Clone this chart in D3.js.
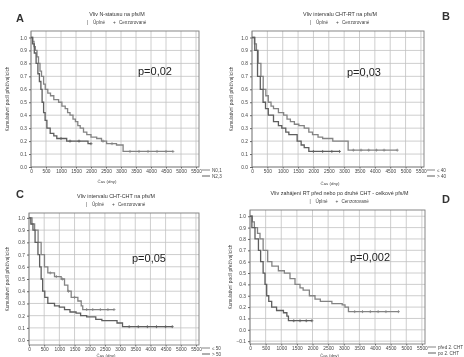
<!DOCTYPE html>
<html>
<head>
<meta charset="utf-8">
<script src="https://cdn.jsdelivr.net/npm/d3@7"></script>
<style>
	body { margin: 0; background: #fff; }
	svg { display: block; font-family: "Liberation Sans", Arial, sans-serif; filter: blur(0.3px); }
</style>
</head>
<body>
<div id="chart"></div>
<script>
// osa x (dny) a osa y (podíl přežívajících)
const xTicks = d3.range(0, 5501, 500);
const yTicks = d3.range(0, 11).map(i => i / 10);
const yTicksD = d3.range(-1, 11).map(i => i / 10);

// A - vliv N-statusu
const curveA1 = [[0,1],[60,0.97],[100,0.93],[145,0.9],[200,0.85],[250,0.8],[300,0.74],[350,0.7],[420,0.64],[475,0.6],[560,0.57],[650,0.55],[760,0.52],[920,0.5],[1030,0.47],[1140,0.45],[1220,0.42],[1300,0.4],[1400,0.37],[1480,0.35],[1560,0.32],[1640,0.3],[1750,0.27],[1860,0.25],[2000,0.23],[2190,0.22],[2350,0.2],[2520,0.18],[2850,0.17],[3070,0.12],[4730,0.12]];
const curveA2 = [[0,1],[50,0.95],[110,0.88],[170,0.8],[230,0.72],[280,0.66],[330,0.6],[370,0.5],[420,0.42],[470,0.36],[530,0.3],[640,0.26],[760,0.24],[860,0.22],[1190,0.2],[1900,0.18],[2000,0.18]];
const censA1 = [2400, 2700, 3300, 3600, 3900, 4200, 4500, 4730];
const censA2 = [1000, 1300, 1600, 2000];

// B - vliv intervalu CHT-RT
const curveB1 = [[0,1],[80,0.95],[144,0.9],[200,0.8],[290,0.7],[365,0.6],[450,0.55],[530,0.5],[620,0.47],[700,0.45],[860,0.42],[1030,0.4],[1140,0.37],[1250,0.35],[1380,0.33],[1525,0.32],[1700,0.3],[1850,0.27],[1970,0.25],[2150,0.23],[2300,0.22],[2630,0.2],[3130,0.13],[4730,0.13]];
const curveB2 = [[0,1],[90,0.9],[180,0.7],[270,0.6],[360,0.5],[440,0.45],[530,0.4],[700,0.35],[860,0.32],[970,0.3],[1100,0.27],[1200,0.25],[1470,0.2],[1600,0.17],[1700,0.15],[1850,0.12],[2850,0.12]];
const censB1 = [3300, 3550, 3800, 4050, 4300, 4730];
const censB2 = [2000, 2300, 2600, 2850];

// C - vliv intervalu CHT-CHT
const curveC1 = [[0,1],[100,0.95],[185,0.9],[300,0.8],[400,0.7],[510,0.6],[620,0.55],[840,0.52],[1060,0.5],[1170,0.45],[1280,0.4],[1390,0.35],[1610,0.32],[1720,0.28],[1770,0.25],[2800,0.25]];
const curveC2 = [[0,1],[60,0.95],[130,0.9],[200,0.8],[295,0.7],[350,0.6],[400,0.5],[450,0.4],[520,0.35],[620,0.3],[840,0.28],[1000,0.27],[1170,0.25],[1350,0.23],[1550,0.22],[1700,0.2],[1900,0.19],[2200,0.17],[2400,0.16],[2900,0.14],[3080,0.11],[4720,0.11]];
const censC1 = [700, 900, 1100, 1300, 1500, 1900, 2100, 2350, 2600, 2800];
const censC2 = [3300, 3600, 3900, 4200, 4500, 4720];

// D - RT před / po druhé CHT
const curveD1 = [[0,1],[75,0.95],[140,0.9],[240,0.85],[320,0.8],[420,0.7],[566,0.6],[700,0.56],[908,0.52],[1100,0.5],[1280,0.45],[1440,0.4],[1600,0.37],[1700,0.35],[1900,0.3],[2080,0.27],[2250,0.25],[2620,0.23],[2950,0.22],[3040,0.2],[3150,0.16],[4750,0.16]];
const curveD2 = [[0,1],[60,0.9],[160,0.8],[270,0.7],[340,0.6],[420,0.5],[480,0.4],[534,0.3],[600,0.25],[694,0.2],[850,0.17],[1070,0.15],[1180,0.12],[1230,0.08],[1980,0.08]];
const censD1 = [3350, 3600, 3850, 4100, 4350, 4750];
const censD2 = [1400, 1600, 1800, 1980];

const titles = ['Vliv N-statusu na pfs/M', 'Vliv intervalu CHT-RT na pfs/M', 'Vliv intervalu CHT-CHT na pfs/M', 'Vliv zahájení RT před nebo po druhé CHT - celkové pfs/M'];
const groupNames = [['N0,1', 'N2,3'], ['≤ 40', '> 40'], ['≤ 50', '> 50'], ['před 2. CHT', 'po 2. CHT']];
const legendNames = ['Úplné', 'Cenzorované'];
const pValues = ['p=0,02', 'p=0,03', 'p=0,05', 'p=0,002'];
const letters = ['A', 'B', 'C', 'D'];

const W = 464, H = 357;
const svg = d3.select('#chart').append('svg').attr('width', W).attr('height', H);

const panels = [
	{ left: 31, right: 199, top: 31, bottom: 167, yDom: [0, 1.05], yT: yTicks, c1: curveA1, c2: curveA2, k1: censA1, k2: censA2, letter: [16, 22], p: [138, 75], yt: 9, xt: 183 },
	{ left: 252, right: 424, top: 31, bottom: 167, yDom: [0, 1.05], yT: yTicks, c1: curveB1, c2: curveB2, k1: censB1, k2: censB2, letter: [442, 20], p: [347, 76], yt: 233, xt: 185 },
	{ left: 29, right: 199, top: 213, bottom: 345, yDom: [-0.04, 1.04], yT: yTicks, c1: curveC1, c2: curveC2, k1: censC1, k2: censC2, letter: [16, 198], p: [132, 262], yt: 9, xt: 356.6 },
	{ left: 250, right: 425, top: 210, bottom: 344, yDom: [-0.125, 1.055], yT: yTicksD, c1: curveD1, c2: curveD2, k1: censD1, k2: censD2, letter: [442, 203], p: [350, 261], yt: 232, xt: 356.6 }
];

// hodnota schodovité křivky v čase t
function survAt(curve, t) {
	let v = curve[0][1];
	curve.forEach(d => { if (d[0] <= t) v = d[1]; });
	return v;
}

panels.forEach((p, i) => {
	const x = d3.scaleLinear().domain([0, 5600]).range([p.left, p.right]);
	const y = d3.scaleLinear().domain(p.yDom).range([p.bottom, p.top]);
	const g = svg.append('g');

	// mřížka
	g.selectAll('.vg').data(xTicks).join('line')
		.attr('x1', d => x(d)).attr('x2', d => x(d))
		.attr('y1', p.top).attr('y2', p.bottom)
		.attr('stroke', '#c2c2c2').attr('stroke-width', 0.8);
	g.selectAll('.hg').data(p.yT).join('line')
		.attr('x1', p.left).attr('x2', p.right)
		.attr('y1', d => y(d)).attr('y2', d => y(d))
		.attr('stroke', '#c2c2c2').attr('stroke-width', 0.8);

	g.append('rect')
		.attr('x', p.left).attr('y', p.top)
		.attr('width', p.right - p.left).attr('height', p.bottom - p.top)
		.attr('fill', 'none').attr('stroke', '#7a7a7a').attr('stroke-width', 0.9);

	// osy
	const ax = g.append('g').attr('transform', `translate(0,${p.bottom})`)
		.call(d3.axisBottom(x).tickValues(xTicks).tickSize(1.5).tickPadding(1.5).tickFormat(d3.format('d')));
	const ay = g.append('g').attr('transform', `translate(${p.left},0)`)
		.call(d3.axisLeft(y).tickValues(p.yT).tickSize(2).tickPadding(2).tickFormat(d3.format('.1f')));
	[ax, ay].forEach(a => {
		a.select('.domain').remove();
		a.selectAll('line').attr('stroke', '#666');
		a.selectAll('text').attr('font-size', 4.8).attr('fill', '#444');
	});

	// křivky přežití
	const line = d3.line().curve(d3.curveStepAfter).x(d => x(d[0])).y(d => y(d[1]));
	const cols = ['#848484', '#5e5e5e'];
	[p.c1, p.c2].forEach((c, j) => {
		g.append('path').datum(c)
			.attr('fill', 'none').attr('stroke', cols[j]).attr('stroke-width', 1.3)
			.attr('d', line);
	});
	[[p.k1, p.c1], [p.k2, p.c2]].forEach(([k, c], j) => {
		g.selectAll(null).data(k).join('path')
			.attr('d', t => {
				const cx = x(t), cy = y(survAt(c, t));
				return `M${cx - 1.5},${cy}H${cx + 1.5}M${cx},${cy - 1.5}V${cy + 1.5}`;
			})
			.attr('stroke', cols[j]).attr('stroke-width', 0.8);
	});

	// nadpis a legenda
	const cx = (p.left + p.right) / 2 + 2;
	g.append('text').attr('x', cx).attr('y', p.top - 15)
		.attr('text-anchor', 'middle').attr('font-size', 5.4).attr('fill', '#333').text(titles[i]);
	const lg = g.append('g').attr('transform', `translate(${cx - 30},${p.top - 7})`);
	legendNames.forEach((n, j) => {
		const ox = j * 26;
		lg.append('text').attr('x', ox).attr('y', 0)
			.attr('font-size', 4.8).attr('fill', '#444').text(j === 0 ? '|' : '+');
		lg.append('text').attr('x', ox + 6).attr('y', 0)
			.attr('font-size', 4.6).attr('fill', '#444').text(n);
	});

	g.append('text').attr('x', p.letter[0]).attr('y', p.letter[1])
		.attr('font-size', 11).attr('font-weight', 'bold').attr('fill', '#333').text(letters[i]);
	g.append('text').attr('x', p.p[0]).attr('y', p.p[1])
		.attr('font-size', 11).attr('fill', '#222').text(pValues[i]);

	// popisky os
	g.append('text').attr('x', (p.left + p.right) / 2 - 8).attr('y', p.xt)
		.attr('text-anchor', 'middle').attr('font-size', 4.4).attr('fill', '#444').text('Čas (dny)');
	g.append('text')
		.attr('transform', `translate(${p.yt},${(p.top + p.bottom) / 2}) rotate(-90)`)
		.attr('text-anchor', 'middle').attr('font-size', 4.8).attr('fill', '#444')
		.text('Kumulativní podíl přežívajících');

	// legenda skupin vpravo dole
	groupNames[i].forEach((n, j) => {
		const ly = p.bottom + 3 + j * 6;
		g.append('line').attr('x1', p.right + 3).attr('x2', p.right + 11)
			.attr('y1', ly).attr('y2', ly).attr('stroke', cols[j]).attr('stroke-width', 1);
		g.append('text').attr('x', p.right + 13).attr('y', ly + 1.6)
			.attr('font-size', 4.6).attr('fill', '#444').text(n);
	});
});
</script>
</body>
</html>
